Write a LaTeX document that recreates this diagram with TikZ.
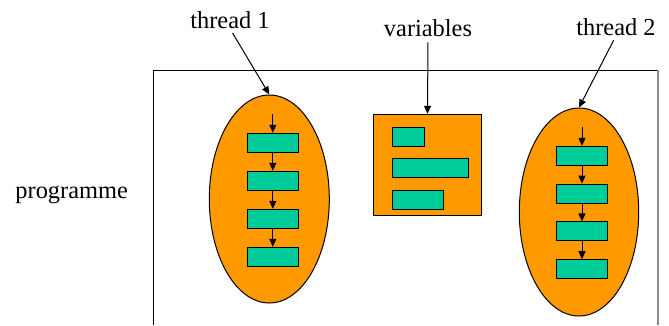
\documentclass[tikz,border=0pt]{standalone}
\usepackage{fontspec}
\setmainfont{Liberation Serif}
\usetikzlibrary{shapes.geometric,arrows.meta}

\definecolor{threadorange}{HTML}{FF9900}
\definecolor{stepgreen}{HTML}{00CC99}

\tikzset{
  thread/.style={ellipse, draw, fill=threadorange, inner sep=0pt},
  stepbox/.style={rectangle, draw, fill=stepgreen, minimum width=51pt, minimum height=19pt, inner sep=0pt},
  label/.style={font=\fontsize{24.4}{29}\selectfont, inner sep=0pt, anchor=base},
  tip/.style={-{Triangle[length=8pt,width=7pt]}}
}

\begin{document}
\begin{tikzpicture}[x=1pt, y=-1pt, line width=1pt]
          \useasboundingbox (0,0) rectangle (669,325);

          % programme frame, open at the bottom
          \draw (153,325) -- (153,70) -- (658,70);
          \draw[gray!90, line width=1.6pt] (658,70) -- (658,325);

          \node[label] (lblprog) at (71.7,198) {programme};
          \node[label] (lblthreadone) at (230,28) {thread 1};
          \node[label] (lblvars) at (428,36.7) {variables};
          \node[label] (lblthreadtwo) at (616,35) {thread 2};

          % first thread
          \node[thread, minimum width=120pt, minimum height=208pt] (threadone) at (269.3,199) {};
          \coordinate (startone) at (272.8,114.3);
          \node[stepbox] (s11) at (272.8,142.8) {};
          \node[stepbox] (s12) at (272.8,180.8) {};
          \node[stepbox] (s13) at (272.8,218.8) {};
          \node[stepbox] (s14) at (272.8,256.8) {};

          % shared variables
          \node[rectangle, draw, fill=threadorange, minimum width=108.4pt, minimum height=101.4pt, inner sep=0pt] (vars) at (427.5,165) {};
          \node[stepbox, minimum width=32.4pt] (va) at (408.5,136.7) {};
          \node[stepbox, minimum width=76.4pt] (vb) at (430.5,168.2) {};
          \node[stepbox] (vc) at (417.8,199.8) {};

          % second thread
          \node[thread, minimum width=119.4pt, minimum height=208pt] (threadtwo) at (579,212) {};
          \coordinate (starttwo) at (582,127);
          \node[stepbox] (s21) at (582,155.8) {};
          \node[stepbox] (s22) at (582,193.6) {};
          \node[stepbox] (s23) at (582,231.4) {};
          \node[stepbox] (s24) at (582,269.2) {};

          \draw[tip] (startone) -- (s11);
          \draw[tip] (s11) -- (s12);
          \draw[tip] (s12) -- (s13);
          \draw[tip] (s13) -- (s14);

          \draw[tip] (starttwo) -- (s21);
          \draw[tip] (s21) -- (s22);
          \draw[tip] (s22) -- (s23);
          \draw[tip] (s23) -- (s24);

          \draw[tip, shorten <=5pt] (lblthreadone.south) -- (threadone.north);
          \draw[tip, shorten <=5pt] (lblvars.south) -- (vars.north);
          \draw[tip, shorten <=5pt] (lblthreadtwo.south) -- (threadtwo.north);
        \end{tikzpicture}
\end{document}
